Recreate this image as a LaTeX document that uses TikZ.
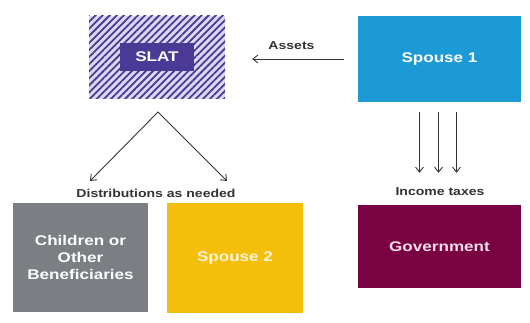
\documentclass[tikz,border=0pt]{standalone}
\usepackage{fontspec}
\setmainfont{Liberation Sans}[FakeStretch=1.22]
\usetikzlibrary{arrows.meta,patterns.meta}

\definecolor{slatpurple}{HTML}{4A3A96}
\definecolor{slatlight}{HTML}{DCD8F2}
\definecolor{spouseblue}{HTML}{1C9AD6}
\definecolor{kidsgray}{HTML}{7B7E82}
\definecolor{spouseyellow}{HTML}{F5BE0A}
\definecolor{govmaroon}{HTML}{7A0142}
\definecolor{arrowgray}{HTML}{333333}

\begin{document}
\begin{tikzpicture}[x=1pt, y=-1pt]
	\useasboundingbox (0,0) rectangle (530,323);
	\begin{scope}[every node/.style={rectangle, inner sep=0pt, align=center, text=white, font=\bfseries\fontsize{14}{17}\selectfont}]
		\node[minimum width=136pt, minimum height=83pt, fill=slatlight,
			postaction={pattern={Lines[angle=45, distance=5pt, line width=1.8pt]}, pattern color=slatpurple}] (Trust) at (157, 57.5) {};
			\node[fill=slatpurple, minimum width=74pt, minimum height=28pt] (Trust name) at (157, 57) {SLAT};
		\node[fill=spouseblue, minimum width=163pt, minimum height=86pt] (Spouse one) at (439.5, 59) {Spouse 1};
		\node[fill=kidsgray, minimum width=135pt, minimum height=109pt] (Beneficiaries) at (80.5, 257.5) {Children or\\Other\\Beneficiaries};
		\node[fill=spouseyellow, minimum width=136pt, minimum height=110pt, text=white!85!spouseyellow] (Spouse two) at (235, 258) {Spouse 2};
		\node[fill=govmaroon, minimum width=163pt, minimum height=83pt, text=white!88!govmaroon] (Government) at (439.5, 246.5) {Government};
	\end{scope}
	\begin{scope}[every node/.style={font=\bfseries\fontsize{11.5}{13}\selectfont, text=arrowgray, inner sep=0pt}]
		\node (Distributions) at (156, 193) {Distributions as needed};
		\node (Taxes) at (440, 192) {Income taxes};
	\end{scope}
	\coordinate (Split) at (158, 112);
	\coordinate (To beneficiaries) at (90, 181);
	\coordinate (To spouse two) at (227, 181);
	\begin{scope}[>={Straight Barb[length=5pt, width=8pt]}, arrowgray, line width=0.9pt]
	\path [->] (Spouse one.west) edge[shorten <=14pt, shorten >=27pt] node[above=9pt, font=\bfseries\fontsize{11.5}{13}\selectfont, inner sep=0pt] {Assets} (Spouse one.west -| Trust.east);
	\draw [<->] (To beneficiaries) -- (Split) -- (To spouse two);
	\foreach \dx in {-20,-1,17}
		\draw [->] ([xshift=\dx pt, yshift=-10pt]Spouse one.south) -- ([xshift=\dx pt, yshift=32pt]Government.north);
	\end{scope}
\end{tikzpicture}
\end{document}
